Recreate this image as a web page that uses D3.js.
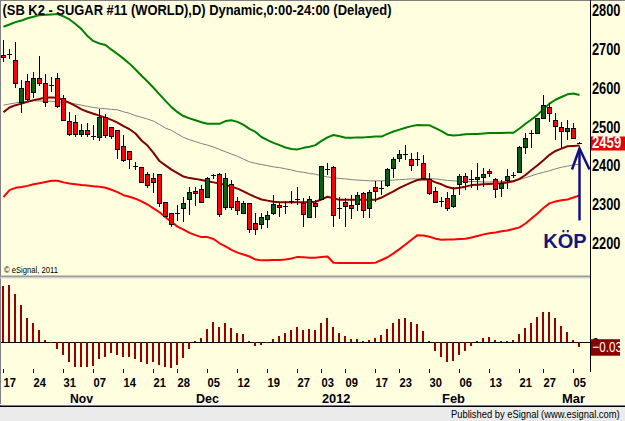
<!DOCTYPE html>
<html>
<head>
<meta charset="utf-8">
<script src="https://cdn.jsdelivr.net/npm/d3@7"></script>
<style>
  body { margin: 0; background: #ffffe0; }
  svg { display: block; font-family: "Liberation Sans", Arial, sans-serif; }
</style>
</head>
<body>
<div id="chart"></div>
<script>
// trading days shown on the chart
var days = ["2011-10-17","2011-10-18","2011-10-19","2011-10-20","2011-10-21","2011-10-24","2011-10-25","2011-10-26","2011-10-27","2011-10-28","2011-10-31",
  "2011-11-01","2011-11-02","2011-11-03","2011-11-04","2011-11-07","2011-11-08","2011-11-09","2011-11-10","2011-11-11","2011-11-14","2011-11-15","2011-11-16","2011-11-17","2011-11-18","2011-11-21","2011-11-22","2011-11-23","2011-11-25","2011-11-28","2011-11-29","2011-11-30",
  "2011-12-01","2011-12-02","2011-12-05","2011-12-06","2011-12-07","2011-12-08","2011-12-09","2011-12-12","2011-12-13","2011-12-14","2011-12-15","2011-12-16","2011-12-19","2011-12-20","2011-12-21","2011-12-22","2011-12-23","2011-12-27","2011-12-28","2011-12-29","2011-12-30",
  "2012-01-03","2012-01-04","2012-01-05","2012-01-06","2012-01-09","2012-01-10","2012-01-11","2012-01-12","2012-01-13","2012-01-17","2012-01-18","2012-01-19","2012-01-20","2012-01-23","2012-01-24","2012-01-25","2012-01-26","2012-01-27","2012-01-30","2012-01-31",
  "2012-02-01","2012-02-02","2012-02-03","2012-02-06","2012-02-07","2012-02-08","2012-02-09","2012-02-10","2012-02-13","2012-02-14","2012-02-15","2012-02-16","2012-02-17","2012-02-21","2012-02-22","2012-02-23","2012-02-24","2012-02-27","2012-02-28","2012-02-29",
  "2012-03-01","2012-03-02","2012-03-05","2012-03-06"];

// daily OHLC
var open = [2685,2688,2672,2565,2618,2591,2625,2612,2609,2625, 2575,2515,2513,2481,2492,2477,2474,2525,2500,2492,
  2451,2438,2399,2396,2379,2368,2378,2307,2277,2277, 2290,2314,2336,2339,2319,2375,2378,2293,2353,2309,
  2277,2303,2252,2249,2262,2278,2298,2296,2309,2313, 2303,2267,2303,2314,2392,2396,2292,2306,2299,2301,
  2329,2290,2344,2343,2350,2393,2419,2429,2417,2417, 2406,2366,2335,2308,2318,2297,2352,2374,2366,2365,
  2370,2387,2365,2342,2363,2377,2385,2449,2485,2485, 2524,2552,2518,2499,2490,2496,2459];
var high = [2724,2700,2720,2621,2636,2642,2684,2636,2629,2638, 2582,2538,2531,2508,2509,2506,2547,2533,2501,2492,
  2479,2438,2410,2396,2385,2381,2378,2307,2277,2298, 2320,2346,2346,2350,2372,2378,2381,2382,2363,2320,
  2310,2303,2277,2277,2282,2325,2307,2309,2335,2344, 2316,2322,2312,2399,2406,2398,2320,2316,2325,2331,
  2333,2337,2361,2361,2393,2422,2441,2453,2432,2435, 2428,2381,2346,2320,2333,2344,2379,2380,2389,2406,
  2393,2391,2368,2363,2392,2383,2450,2484,2492,2522, 2582,2561,2535,2512,2518,2509,2462];
var low = [2666,2674,2600,2535,2568,2574,2606,2552,2591,2549, 2516,2477,2475,2473,2475,2466,2464,2471,2469,2417,
  2410,2391,2389,2355,2342,2329,2294,2269,2241,2258, 2254,2272,2296,2305,2316,2365,2267,2286,2286,2273,
  2277,2226,2222,2238,2239,2273,2269,2276,2301,2299, 2241,2265,2265,2312,2376,2241,2262,2243,2262,2282,
  2265,2265,2307,2325,2346,2368,2410,2415,2386,2398, 2363,2325,2303,2294,2284,2292,2325,2337,2342,2337,
  2344,2370,2317,2319,2340,2368,2381,2430,2445,2481, 2522,2513,2466,2445,2466,2469,2458];
var close = [2679,2687,2612,2600,2571,2625,2614,2563,2609,2553, 2519,2482,2481,2492,2481,2477,2526,2479,2477,2442,
  2415,2417,2399,2359,2350,2359,2303,2270,2250,2277, 2304,2332,2329,2307,2368,2375,2276,2368,2293,2286,
  2305,2236,2238,2267,2272,2301,2293,2296,2309,2313, 2276,2314,2296,2398,2392,2273,2292,2296,2290,2325,
  2286,2333,2335,2343,2391,2418,2430,2429,2402,2417, 2368,2329,2307,2308,2290,2324,2374,2359,2366,2371,
  2378,2381,2339,2356,2374,2377,2449,2471,2485,2522, 2557,2535,2503,2490,2496,2471,2459];

// study lines
var upperBand = [2758,2764,2770,2774,2780,2784,2788,2789,2790,2791, 2785,2777,2765,2752,2734,2721,2715,2711,2699,2688,
  2676,2663,2648,2632,2617,2601,2584,2567,2551,2538, 2528,2522,2517,2512,2508,2508,2508,2515,2517,2513,
  2505,2495,2487,2474,2466,2459,2453,2447,2443,2442, 2446,2449,2453,2464,2473,2479,2476,2472,2472,2473,
  2473,2474,2475,2475,2482,2488,2493,2498,2502,2505, 2504,2504,2497,2489,2480,2478,2479,2481,2482,2482,
  2483,2484,2484,2484,2485,2485,2496,2508,2519,2531, 2546,2560,2570,2577,2584,2586,2582];
var midAvg = [2538,2550,2556,2560,2565,2569,2572,2576,2576,2575, 2569,2562,2554,2545,2539,2534,2529,2524,2518,2511,
  2502,2494,2483,2465,2452,2433,2412,2401,2390,2381, 2372,2368,2366,2363,2360,2357,2354,2350,2346,2341,
  2334,2326,2319,2313,2310,2307,2306,2306,2306,2306, 2306,2306,2307,2313,2320,2316,2312,2312,2312,2312,
  2312,2312,2312,2318,2326,2334,2343,2350,2357,2363, 2365,2364,2357,2352,2345,2341,2343,2346,2350,2351,
  2352,2353,2354,2355,2357,2360,2366,2376,2389,2401, 2414,2428,2438,2444,2450,2451,2452];
var slowAvg = [2556,2559,2562,2564,2566,2567,2567,2566,2566,2565, 2563,2562,2559,2556,2553,2550,2548,2547,2545,2544,
  2539,2535,2529,2525,2520,2515,2506,2497,2491,2482, 2473,2467,2462,2457,2453,2448,2442,2436,2430,2424,
  2417,2410,2406,2403,2400,2397,2395,2392,2389,2385, 2383,2380,2378,2374,2371,2369,2367,2366,2364,2363,
  2362,2361,2361,2361,2362,2363,2364,2365,2366,2366, 2367,2367,2366,2364,2362,2361,2360,2359,2359,2359,
  2358,2358,2359,2359,2360,2361,2364,2369,2374,2379, 2383,2387,2392,2396,2399,2402,2404];
var lowerBand = [2319,2337,2343,2345,2348,2352,2355,2358,2361,2361, 2357,2354,2352,2350,2349,2347,2346,2343,2338,2332,
  2324,2320,2315,2308,2300,2290,2280,2267,2255,2243, 2235,2227,2221,2216,2216,2211,2200,2192,2183,2176,
  2171,2166,2158,2156,2156,2157,2157,2158,2161,2165, 2164,2163,2163,2165,2166,2150,2149,2149,2149,2149,
  2149,2149,2150,2157,2164,2174,2185,2197,2209,2221, 2220,2217,2212,2209,2210,2210,2211,2212,2215,2219,
  2223,2226,2228,2231,2233,2237,2241,2251,2264,2277, 2291,2303,2308,2311,2313,2318,2323];

// lower panel histogram
var histo = [0.357,0.364,0.306,0.236,0.151,0.121,0.077,0.013,-0.003,-0.043,
  -0.081,-0.128,-0.158,-0.158,-0.158,-0.153,-0.108,-0.094,-0.072,-0.083,
  -0.094,-0.096,-0.108,-0.128,-0.138,-0.128,-0.147,-0.158,-0.164,-0.147,
  -0.100,-0.045,0.006,0.026,0.083,0.128,0.096,0.121,0.089,0.057,
  0.053,0.006,-0.024,-0.017,-0.003,0.019,0.038,0.057,0.077,0.096,
  0.077,0.083,0.077,0.121,0.153,0.096,0.057,0.038,0.019,0.019,
  0.006,0.013,0.026,0.045,0.083,0.121,0.147,0.153,0.128,0.117,
  0.070,0.006,-0.057,-0.096,-0.128,-0.121,-0.083,-0.057,-0.026,0.006,
  0.024,0.032,0.013,0.006,0.006,0.015,0.051,0.089,0.121,0.160,
  0.191,0.191,0.153,0.102,0.064,0.013,-0.030];

var priceTicks = [2200, 2300, 2400, 2500, 2600, 2700, 2800];
var title = "(SB K2 - SUGAR #11 (WORLD),D) Dynamic,0:00-24:00 (Delayed)";

var width = 625, height = 421;
var parse = d3.timeParse("%Y-%m-%d");
var dates = days.map(parse);
var last = days.length - 1;

var svg = d3.select("#chart").append("svg")
    .attr("width", width)
    .attr("height", height);

svg.append("rect").attr("width", width).attr("height", height).attr("fill", "#ffffe0");

// scales
var x = d3.scaleBand().domain(days).range([0, 582]);
var y = d3.scaleLinear().domain([2200, 2800]).range([243.3, 10.5]);
var yh = d3.scaleLinear().domain([-0.19, 0.365]).range([371.8, 284.8]);
function cx(i) { return x(days[i]) + 3; }

// squeeze a text horizontally so it spans w pixels
function fitText(sel, tx, ty, w) {
  var len = sel.node().getComputedTextLength();
  sel.attr("transform", "translate(" + tx + "," + ty + ") scale(" + (w / len) + ",1)");
}

// clip for the price panel
svg.append("clipPath").attr("id", "mainclip")
  .append("rect").attr("x", 1).attr("y", 1).attr("width", 589).attr("height", 274);

var main = svg.append("g").attr("clip-path", "url(#mainclip)");

// study lines behind the candles
var line = d3.line()
    .x(function(d, i) { return cx(i) + 0.5; })
    .y(function(d) { return y(d); });

var studies = [
  {data: lowerBand, color: "#ff0000", w: 2},
  {data: slowAvg, color: "#808080", w: 1},
  {data: midAvg, color: "#800000", w: 2},
  {data: upperBand, color: "#008000", w: 2}
];
studies.forEach(function(s) {
  main.append("path")
      .datum(s.data)
      .attr("d", line)
      .attr("fill", "none")
      .attr("stroke", s.color)
      .attr("stroke-width", s.w)
      .attr("stroke-linejoin", "round");
});

// candles
var candles = main.selectAll(".candle")
    .data(days)
    .enter().append("g")
    .attr("class", "candle");

candles.append("line")
    .attr("x1", function(d, i) { return cx(i) + 0.5; })
    .attr("x2", function(d, i) { return cx(i) + 0.5; })
    .attr("y1", function(d, i) { return Math.round(y(high[i])); })
    .attr("y2", function(d, i) { return Math.round(y(low[i])); })
    .attr("stroke", "#000")
    .attr("stroke-width", 1);

candles.each(function(d, i) {
  var g = d3.select(this);
  var o = open[i], c = close[i];
  if (Math.abs(o - c) <= 1) {
    // doji: black dash
    g.append("line")
      .attr("x1", cx(i) - 2).attr("x2", cx(i) + 3)
      .attr("y1", Math.round(y(c)) + 0.5).attr("y2", Math.round(y(c)) + 0.5)
      .attr("stroke", "#000").attr("stroke-width", 1);
  } else {
    var top = Math.round(y(Math.max(o, c)));
    var bot = Math.round(y(Math.min(o, c)));
    g.append("rect")
      .attr("x", cx(i) - 1.5)
      .attr("y", top + 0.5)
      .attr("width", 4)
      .attr("height", Math.max(1, bot - top))
      .attr("fill", c > o ? "#0d5e0d" : "#ff0000")
      .attr("stroke", "#000")
      .attr("stroke-width", 1);
  }
});

// copyright
svg.append("text")
    .attr("x", 4).attr("y", 272.5)
    .attr("font-size", 9)
    .attr("textLength", 54).attr("lengthAdjust", "spacingAndGlyphs")
    .attr("fill", "#000")
    .text("\u00a9 eSignal, 2011");

// title
svg.append("text")
    .attr("x", 2.5).attr("y", 15)
    .attr("font-size", 14).attr("font-weight", "bold")
    .attr("textLength", 389).attr("lengthAdjust", "spacingAndGlyphs")
    .attr("fill", "#000")
    .text(title);

// buy annotation next to the last bar
var ax = cx(last) + 0.5, ay = Math.round(y(close[last])) + 5.5;
var arrow = svg.append("g")
    .attr("stroke", "#10108a")
    .attr("stroke-width", 2.5)
    .attr("fill", "none");
arrow.append("line").attr("x1", ax).attr("x2", ax).attr("y1", ay).attr("y2", ay + 72);
arrow.append("polyline")
    .attr("points", [[ax - 7.5, ay + 21], [ax, ay], [ax + 10, ay + 21]].join(" "));

svg.append("text")
    .attr("x", 543.3).attr("y", 248.3)
    .attr("font-size", 20).attr("font-weight", "bold")
    .attr("fill", "#15157d")
    .text("KÖP");

// histogram
var hist = svg.append("g");
hist.append("line")
    .attr("x1", 0).attr("x2", 590)
    .attr("y1", Math.round(yh(0)) + 0.5).attr("y2", Math.round(yh(0)) + 0.5)
    .attr("stroke", "#000");

hist.selectAll(".hbar")
    .data(histo)
    .enter().append("rect")
    .attr("class", "hbar")
    .attr("x", function(d, i) { return cx(i) - 1; })
    .attr("width", 2)
    .attr("y", function(d) { return Math.round(yh(Math.max(0, d))); })
    .attr("height", function(d) { return Math.max(1, Math.round(Math.abs(yh(d) - yh(0)))); })
    .attr("fill", "#990000");

// frame
svg.append("line").attr("x1", 0).attr("x2", width).attr("y1", 0.5).attr("y2", 0.5).attr("stroke", "#808080");
svg.append("line").attr("x1", 0.5).attr("x2", 0.5).attr("y1", 0).attr("y2", 406).attr("stroke", "#808080");
svg.append("line").attr("x1", 590.5).attr("x2", 590.5).attr("y1", 0).attr("y2", 372).attr("stroke", "#000");
svg.append("rect").attr("x", 0).attr("y", 275.5).attr("width", 590).attr("height", 2).attr("fill", "#9a9a9a");
svg.append("line").attr("x1", 0).attr("x2", 590).attr("y1", 278).attr("y2", 278).attr("stroke", "#d8d8d8");

// right price axis (tall narrow digits: 16px squeezed horizontally)
svg.selectAll(".ptick")
    .data(priceTicks)
    .enter().append("text")
    .attr("class", "ptick")
    .attr("transform", function(d) { return "translate(592," + (y(d) + 5.6) + ") scale(0.8,1)"; })
    .attr("font-size", 16).attr("font-weight", "bold")
    .attr("fill", "#000")
    .text(function(d) { return d; });

// last price tag
var ly = y(close[last]);
svg.append("rect")
    .attr("x", 591).attr("y", ly - 6.3).attr("width", 34).attr("height", 14)
    .attr("fill", "#e30000");
svg.append("text")
    .attr("transform", "translate(592," + (ly + 5.6) + ") scale(0.82,1)")
    .attr("font-size", 16).attr("font-weight", "bold")
    .attr("fill", "#fff")
    .text(close[last]);

// histogram zero label (mostly hidden by the value tag) and last value tag
svg.append("text")
    .attr("x", 592).attr("y", yh(0) + 5)
    .attr("font-size", 13).attr("font-weight", "bold")
    .attr("fill", "#000")
    .text("0");
var hy = yh(histo[last]);
svg.append("rect")
    .attr("x", 591).attr("y", hy - 7.5).attr("width", 29).attr("height", 16.5)
    .attr("fill", "#8b0000");
svg.append("text")
    .attr("transform", "translate(592.5," + (hy + 5.5) + ") scale(0.775,1)")
    .attr("font-size", 15)
    .attr("fill", "#fff")
    .text(d3.format(".2f")(histo[last]));

// date axis: first trading day of each week, and month starts
var weekFirst = [], monthFirst = [];
dates.forEach(function(d, i) {
  if (i === 0 || +d3.timeMonday.floor(d) !== +d3.timeMonday.floor(dates[i - 1])) weekFirst.push(i);
  if (i > 0 && d.getMonth() !== dates[i - 1].getMonth()) monthFirst.push(i);
});

var axisG = svg.append("g");
axisG.selectAll(".wtick")
    .data(weekFirst)
    .enter().append("line")
    .attr("x1", function(i) { return cx(i) + 0.5; })
    .attr("x2", function(i) { return cx(i) + 0.5; })
    .attr("y1", 369).attr("y2", 373)
    .attr("stroke", "#000");

axisG.selectAll(".wlabel")
    .data(weekFirst)
    .enter().append("text")
    .attr("x", function(i) { return cx(i) + 0.5; })
    .attr("y", 386.7)
    .attr("font-size", 13).attr("font-weight", "bold")
    .attr("textLength", 12.4).attr("lengthAdjust", "spacingAndGlyphs")
    .attr("fill", "#000")
    .text(function(i) { return d3.timeFormat("%d")(dates[i]); });

axisG.selectAll(".mlabel")
    .data(monthFirst)
    .enter().append("text")
    .attr("x", function(i) { return cx(i) + 1; })
    .attr("y", 402.7)
    .attr("font-size", 13).attr("font-weight", "bold")
    .attr("textLength", function(i) { return dates[i].getMonth() === 0 ? 28.5 : 23; })
    .attr("lengthAdjust", "spacingAndGlyphs")
    .attr("fill", "#000")
    .text(function(i) {
      var d = dates[i];
      return d.getMonth() === 0 ? d3.timeFormat("%Y")(d) : d3.timeFormat("%b")(d);
    });

// status bar
svg.append("line").attr("x1", 0).attr("x2", width).attr("y1", 404.5).attr("y2", 404.5).attr("stroke", "#ffffff");
svg.append("rect").attr("x", 0).attr("y", 407).attr("width", width).attr("height", 14).attr("fill", "#ebebeb");
svg.append("rect").attr("x", 0).attr("y", 405.5).attr("width", width).attr("height", 1.5).attr("fill", "#000");
var pub = svg.append("text")
    .attr("font-size", 10.5)
    .attr("fill", "#000")
    .text("Published by eSignal (www.esignal.com)");
fitText(pub, 451, 417.5, 169);
</script>
</body>
</html>
